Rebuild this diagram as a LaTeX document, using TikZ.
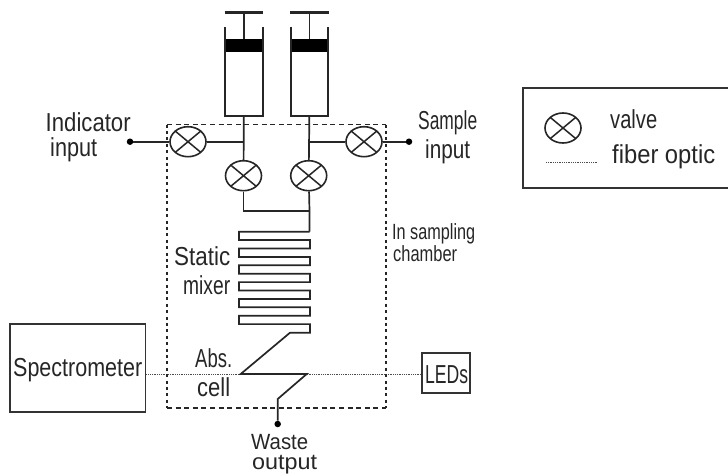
\documentclass[tikz,border=0pt]{standalone}
\usepackage{fontspec}
\usepackage{graphicx}
\setmainfont{Liberation Sans}
\usetikzlibrary{shapes.geometric}
\tikzset{
  x=1pt,y=-1pt,
  line/.style={draw=black!85,line width=1.7pt},
  dashh/.style={draw=black!85,line width=1.7pt,dash pattern=on 5pt off 3.6pt},
  dashv/.style={draw=black!85,line width=1.9pt,dash pattern=on 3pt off 3.4pt},
  fiber/.style={draw=black!70,line width=0.9pt,dash pattern=on 1pt off 0.8pt},
  box/.style={draw=black!80,line width=1.8pt,rectangle,inner sep=0pt},
  valve/.style={ellipse,draw=black!85,line width=1.6pt,fill=white,minimum width=36pt,minimum height=30pt,inner sep=0pt,
    path picture={\draw[line width=1.5pt,black!85] (path picture bounding box.north west)--(path picture bounding box.south east)
      (path picture bounding box.north east)--(path picture bounding box.south west);}},
  dot/.style={circle,fill=black,inner sep=0pt,minimum size=6.5pt},
  lab/.style={anchor=base west,inner sep=0pt,text=black!85,font=\fontsize{26}{26}\selectfont},
  labs/.style={lab,font=\fontsize{22}{22}\selectfont},
  piston/.style={rectangle,fill=black,inner sep=0pt,minimum width=37.5pt,minimum height=12.5pt},
}
\newcommand\fitw[2]{\resizebox{#1pt}{\height}{#2}}
\begin{document}
\begin{tikzpicture}
\useasboundingbox (0,0) rectangle (728,475);
\node[box,minimum width=135.5pt,minimum height=87.5pt] (spec) at (77.7,368) {};
\node[box,minimum width=48pt,minimum height=40pt] (leds) at (446,372.7) {};
\node[box,minimum width=205.5pt,minimum height=100pt,anchor=north west] (legend) at (522,86.7) {};
\coordinate (absL) at (240.7,374);
\coordinate (absR) at (306.7,374);
\draw[fiber] (spec.east |- absL) -- (absL);
\draw[fiber] (absR) -- (leds.west |- absR);
% chamber
\coordinate (c1) at (167,124.5);
\coordinate (c2) at (386,124.5);
\coordinate (c3) at (386,408);
\coordinate (c4) at (167,408);
\draw[dashh] (c1) -- (c2);
\draw[dashh] (c4) -- (c3);
\draw[dashv] (c1) -- (c4);
\draw[dashv] (c2) -- (c3);
% syringes
\foreach \n/\a/\b in {L/225/262.7,R/290.7/328}{
  \node[piston] (piston\n) at ({(\a+\b)/2},45.6) {};
  \coordinate (bar\n) at ({(\a+\b)/2},12.5);
  \coordinate (out\n) at ({(\a+\b)/2},115.7);
  \draw[line] (\a,27) -- (\a,115.7) -- (\b,115.7) -- (\b,27);
  \draw[line] (bar\n) -- (piston\n.north);
  \draw[black!85,line width=3.6pt] ({\a-0.5},12.5) -- ({\b+0.5},12.5);
}
% valves
\node[valve] (v1) at (188,141.7) {};
\node[valve] (v2) at (243.5,175.7) {};
\node[valve] (v3) at (308.7,175.7) {};
\node[valve] (v4) at (364,141.7) {};
\node[dot] (inL) at (130,141.7) {};
\node[dot] (inR) at (409,141.7) {};
\coordinate (jL) at (outL |- v1);
\coordinate (jR) at (outR |- v4);
\draw[line] (inL) -- (v1);
\draw[line] (v1) -- (jL);
\draw[line] (outL) -- (v2);
\draw[line] (outR) -- (v3);
\draw[line] (jR) -- (v4);
\draw[line] (v4) -- (inR);
% static mixer and cell
\coordinate (mixTop) at (309.5,231.7);
\coordinate (jB) at (309.5,211);
\coordinate (jA) at (243.5,211);
\draw[line] (v2) -- (jA) -- (jB);
\draw[line] (v3) -- (jB) -- (mixTop);
\coordinate (cellOut) at (277.7,399);
\node[dot] (waste) at (277.7,424) {};
\draw[line,line join=miter] (mixTop) -- (239,231.7) -- (239,240) -- (310,240) -- (310,248.5) -- (239,248.5) -- (239,256.9) -- (310,256.9) -- (310,265.3)
 -- (239,265.3) -- (239,273.7) -- (310,273.7) -- (310,282.1) -- (239,282.1) -- (239,290.5) -- (310,290.5) -- (310,298.9)
 -- (239,298.9) -- (239,307.3) -- (310,307.3) -- (310,315.7) -- (239,315.7) -- (239,324.1) -- (310,324.1) -- (310,332.7)
 -- (290,332.7) -- (absL) -- (absR) -- (cellOut) -- (waste);
% texts
\node[lab] (t1) at (45.5,131.7) {\fitw{85}{Indicator}};
\node[lab] (t2) at (50,156.7) {\fitw{47}{input}};
\node[lab] (t3) at (418,129) {\fitw{59}{Sample}};
\node[lab] (t4) at (425,158) {\fitw{45}{input}};
\node[labs] (t5) at (392,239) {\fitw{83}{In sampling}};
\node[labs] (t6) at (393,261.7) {\fitw{64}{chamber}};
\node[lab] (t7) at (174,265) {\fitw{56}{Static}};
\node[lab] (t8) at (183,294) {\fitw{47}{mixer}};
\node[lab] (t9) at (195,367.7) {\fitw{37}{Abs.}};
\node[lab] (t10) at (197,396.7) {\fitw{33}{cell}};
\node[labs] (t11) at (251,449) {\fitw{57}{Waste}};
\node[labs] (t12) at (252,469.5) {\fitw{65}{output}};
\node[lab] (t13) at (13,376.7) {\fitw{129}{Spectrometer}};
\node[lab] (t14) at (425,383) {\fitw{43}{LEDs}};
\node[lab] (t15) at (610,128) {\fitw{47}{valve}};
\node[lab] (t16) at (612,163) {\fitw{103}{fiber optic}};
% legend
\node[valve] (lv) at (563,128) {};
\coordinate (lf1) at (546,162.7);
\coordinate (lf2) at (598,162.7);
\draw[fiber] (lf1) -- (lf2);
\end{tikzpicture}
\end{document}
